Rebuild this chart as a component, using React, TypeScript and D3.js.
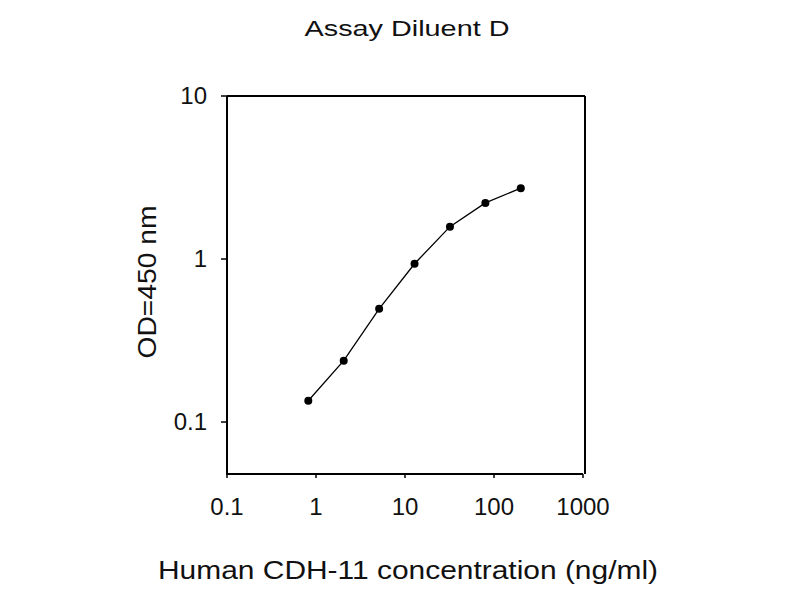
import React from "react";
import * as d3 from "d3";

const concentrations = [0.8192, 2.048, 5.12, 12.8, 32, 80, 200];
const odValues = [0.135, 0.238, 0.495, 0.935, 1.58, 2.21, 2.72];
const xTicks = [0.1, 1, 10, 100, 1000];
const yTicks = [0.1, 1, 10];
const xTickLabels = ["0.1", "1", "10", "100", "1000"];
const yTickLabels = ["0.1", "1", "10"];

const FONT = "'Liberation Sans', Arial, sans-serif";

export default function App() {
  const left = 227, right = 583, top = 96, bottom = 474;
  const x = d3.scaleLog().domain([0.1, 1000]).range([left, right]);
  const y = d3.scaleLog().domain([0.048, 10]).range([bottom, top]);
  const pts = concentrations.map((c, i) => [x(c), y(odValues[i])] as [number, number]);
  const line = d3.line()(pts) || "";
  return (
    <svg width={800} height={600} style={{ position: "absolute", left: 0, top: 0, background: "#fff" }}>
      <rect x={0} y={0} width={800} height={600} fill="#fff" />
      <text x={407} y={36} fontFamily={FONT} fontSize={22} textAnchor="middle" textLength={205} lengthAdjust="spacingAndGlyphs" fill="#111">Assay Diluent D</text>
      <line x1={left} y1={top} x2={585} y2={top} stroke="#000" strokeWidth={2} />
      <line x1={585} y1={top} x2={585} y2={bottom} stroke="#000" strokeWidth={2} />
      <line x1={left} y1={top} x2={left} y2={bottom + 1} stroke="#000" strokeWidth={2} />
      <line x1={left - 1} y1={bottom} x2={right} y2={bottom} stroke="#000" strokeWidth={2} />
      {yTicks.map((t, i) => (
        <g key={"y" + i}>
          <line x1={left - 6} x2={left} y1={y(t)} y2={y(t)} stroke="#000" strokeWidth={1.5} />
          <text x={207} y={y(t) + 8} fontFamily={FONT} fontSize={24} textAnchor="end" fill="#111">{yTickLabels[i]}</text>
        </g>
      ))}
      {xTicks.map((t, i) => (
        <g key={"x" + i}>
          <line x1={x(t)} x2={x(t)} y1={bottom} y2={bottom + 4} stroke="#000" strokeWidth={1.5} />
          <text x={x(t)} y={515} fontFamily={FONT} fontSize={24} textAnchor="middle" fill="#111">{xTickLabels[i]}</text>
        </g>
      ))}
      <path d={line} fill="none" stroke="#000" strokeWidth={1.3} />
      {pts.map((p, i) => (
        <circle key={i} cx={p[0]} cy={p[1]} r={4} fill="#000" />
      ))}
      <text x={408} y={579} fontFamily={FONT} fontSize={25} textAnchor="middle" textLength={500} lengthAdjust="spacingAndGlyphs" fill="#111">Human CDH-11 concentration (ng/ml)</text>
      <text transform="translate(156,282) rotate(-90)" fontFamily={FONT} fontSize={26} textAnchor="middle" textLength={153} lengthAdjust="spacingAndGlyphs" fill="#111">OD=450 nm</text>
    </svg>
  );
}
